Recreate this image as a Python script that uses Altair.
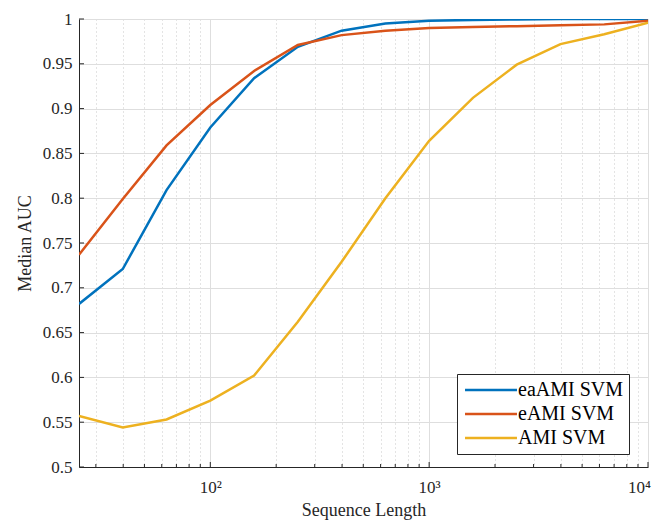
import altair as alt
import pandas as pd

seq_len = [25.12, 39.81, 63.1, 100, 158.5, 251.2, 398.1, 631.0, 1000, 1585, 2512, 3981, 6310, 10000]
eaami = [0.682, 0.721, 0.809, 0.879, 0.934, 0.969, 0.987, 0.995, 0.998, 0.999, 0.9995, 1.0, 1.0, 1.0]
eami = [0.737, 0.799, 0.859, 0.904, 0.942, 0.971, 0.982, 0.987, 0.990, 0.991, 0.992, 0.993, 0.994, 0.998]
ami = [0.557, 0.544, 0.553, 0.574, 0.602, 0.662, 0.729, 0.800, 0.864, 0.912, 0.949, 0.972, 0.983, 0.996]
series = ["eaAMI SVM", "eAMI SVM", "AMI SVM"]
colors = ["#0072BD", "#D95319", "#EDB120"]

x_major = [100, 1000, 10000]
x_minor = [30, 40, 50, 60, 70, 80, 90, 200, 300, 400, 500, 600, 700, 800, 900,
           2000, 3000, 4000, 5000, 6000, 7000, 8000, 9000]
y_ticks = [0.5, 0.55, 0.6, 0.65, 0.7, 0.75, 0.8, 0.85, 0.9, 0.95, 1.0]

rows = []
for name, vals in zip(series, [eaami, eami, ami]):
    for x, v in zip(seq_len, vals):
        rows.append({"len": x, "auc": v, "series": name})
df = pd.DataFrame(rows)

FONT = "Liberation Serif"
DARK = "#262626"
W, H = 569, 448

major_test = "datum.value == 100 || datum.value == 1000 || datum.value == 10000"

xscale = alt.Scale(type="log", domain=[25.12, 10000], nice=False)
yscale = alt.Scale(domain=[0.5, 1.0], nice=False, zero=False)

lines = alt.Chart(df).mark_line(strokeWidth=2.5, clip=True).encode(
    x=alt.X("len:Q", scale=xscale, axis=alt.Axis(
        title="Sequence Length",
        values=sorted(x_major + x_minor),
        labelExpr="datum.value == 100 ? '10²' : datum.value == 1000 ? '10³' : datum.value == 10000 ? '10⁴' : ''",
        labelOffset={"condition": {"test": "datum.value == 10000", "value": -9}, "value": 0},
        gridDash={"condition": {"test": major_test, "value": []}, "value": [1, 3]},
        gridColor={"condition": {"test": major_test, "value": "#dedede"}, "value": "#c8c8c8"},
        tickSize=0, labelPadding=12, labelFontSize=17, titlePadding=6,
        labelFlush=False, labelOverlap=False,
    )),
    y=alt.Y("auc:Q", scale=yscale, axis=alt.Axis(
        title="Median AUC", values=y_ticks, format="~g",
        gridColor="#dedede", tickSize=0, labelPadding=7, labelFontSize=17,
        titlePadding=8,
    )),
    color=alt.Color("series:N", sort=series,
                    scale=alt.Scale(domain=series, range=colors),
                    legend=alt.Legend(
                        title=None, orient="none", legendX=378, legendY=355,
                        fillColor="white", strokeColor=DARK, padding=6,
                        symbolType="M-5,0H5", symbolSize=108, symbolStrokeWidth=2.5,
                        symbolOffset=18,
                        labelFont=FONT, labelFontSize=20, labelColor="black",
                        rowPadding=4, labelOffset=17, cornerRadius=0,
                    )),
)

ytick_df = pd.DataFrame({"auc": y_ticks})
yticks = alt.Chart(ytick_df).mark_rule(color=DARK, strokeWidth=1).encode(
    y=alt.Y("auc:Q", scale=yscale),
    x=alt.value(0), x2=alt.value(5),
)

xmaj_df = pd.DataFrame({"len": x_major})
xmaj = alt.Chart(xmaj_df).mark_rule(color=DARK, strokeWidth=1).encode(
    x=alt.X("len:Q", scale=xscale),
    y=alt.value(H), y2=alt.value(H - 5),
)
xmin_df = pd.DataFrame({"len": x_minor})
xmin = alt.Chart(xmin_df).mark_rule(color=DARK, strokeWidth=1).encode(
    x=alt.X("len:Q", scale=xscale),
    y=alt.value(H), y2=alt.value(H - 3),
)

chart = alt.layer(lines, yticks, xmaj, xmin).properties(
    width=W, height=H,
    autosize=alt.AutoSizeParams(type="none"),
    padding={"left": 71, "top": 11, "right": 5, "bottom": 55},
    background="white",
).configure_view(stroke=None).configure_axis(
    labelFont=FONT, titleFont=FONT, labelColor=DARK, titleColor=DARK,
    titleFontSize=18, titleFontWeight="normal", domainColor=DARK, domainWidth=1,
    gridWidth=1,
)

chart.save("out.html", embed_options={"renderer": "svg", "actions": False})
